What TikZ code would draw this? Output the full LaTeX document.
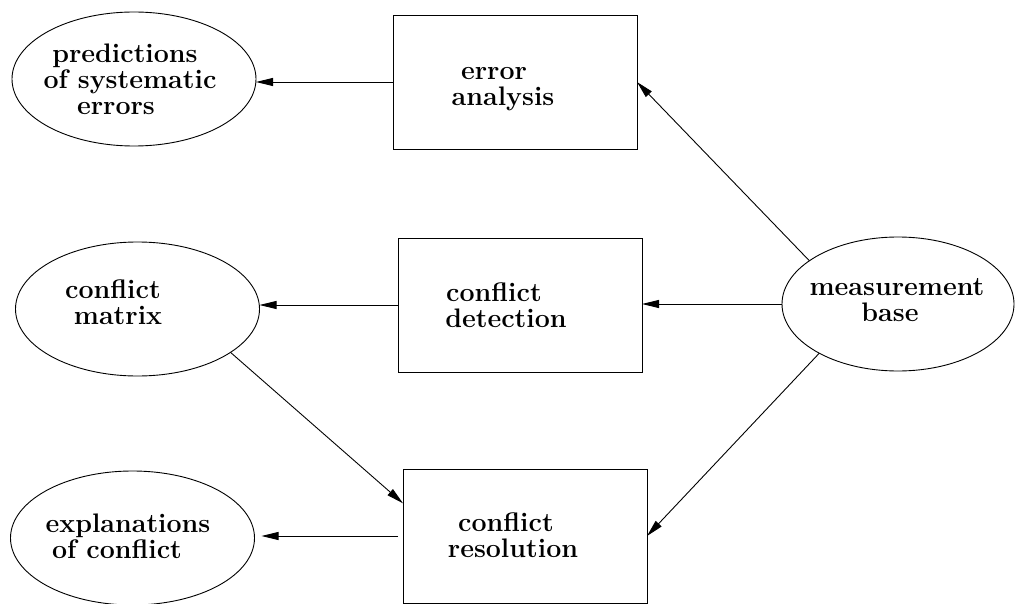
\documentclass[tikz,border=0pt]{standalone}
\usepackage{fontspec}
\usetikzlibrary{arrows.meta,shapes.geometric,calc}
\begin{document}
\begin{tikzpicture}[x=1pt,y=-1pt,
  every node/.style={inner sep=0pt,outer sep=0pt},
  box/.style={draw,rectangle,minimum width=244pt,minimum height=134pt,line width=0.9pt},
  oval/.style={draw,ellipse,minimum width=244pt,minimum height=134pt,line width=0.9pt},
  lbl/.style={align=center,font=\fontsize{26.8}{26}\selectfont\bfseries},
  link/.style={line width=0.9pt,-{Triangle[length=17pt,width=8pt]}}]
\useasboundingbox (0,0) rectangle (1016,604);

% outcomes (left column)
\node[oval] (ps) at (134,79) {};
\node[oval] (cm) at (137.5,309) {};
\node[oval] (ex) at (132.5,538) {};
% data source (right)
\node[oval,minimum width=232pt] (mb) at (898,304) {};
% processing steps (middle column)
\node[box] (ea) at (515,82) {};
\node[box] (cd) at (520,305) {};
\node[box] (cr) at (525,536) {};

% labels
\node[lbl] (ps-t) at (125,79.5) {predictions\\\hspace*{10pt}of systematic\\errors\hspace*{18pt}};
\node[lbl] (cm-t) at (115.5,302) {conflict\hspace*{5pt}\\\hspace*{5pt}matrix};
\node[lbl] (ex-t) at (122.5,536) {\hspace*{11pt}explanations\\of conflict\hspace*{11pt}};
\node[lbl] (mb-t) at (894,300) {\hspace*{6pt}measurement\\base\hspace*{8pt}};
\node[lbl] (ea-t) at (498,89) {error\hspace*{8pt}\\\hspace*{10pt}analysis};
\node[lbl] (cd-t) at (500,305) {conflict\hspace*{12pt}\\\hspace*{12pt}detection};
\node[lbl] (cr-t) at (509.5,535.5) {conflict\hspace*{7pt}\\\hspace*{7pt}resolution};

% flows
\draw[link] (ea.west) -- (ea.west -| ps.east);
\draw[link] (cd.west) -- (cd.west -| cm.east);
\draw[link,shorten <=5pt,shorten >=7pt] (cr.west) -- (cr.west -| ex.east);
\draw[link] (mb.west) -- (mb.west -| cd.east);
\draw[link] (mb.154) -- (ea.east);
\draw[link] (mb.212) -- (cr.east);
\draw[link] (cm.335.6) -- (cr.165.7);
\end{tikzpicture}
\end{document}
